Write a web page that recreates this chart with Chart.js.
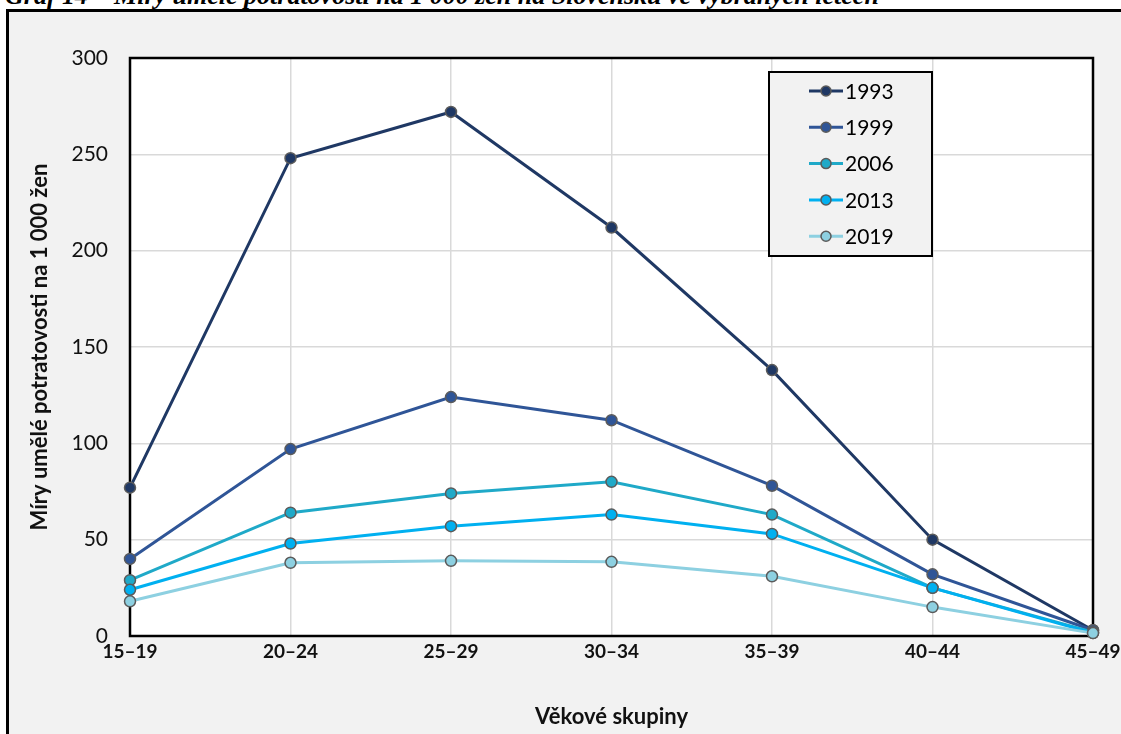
<!DOCTYPE html>
<html lang="cs">
<head>
<meta charset="utf-8">
<title>Míry umělé potratovosti</title>
<script src="https://cdn.jsdelivr.net/npm/chart.js@4.4.1/dist/chart.umd.min.js"></script>
<style>
  html, body { margin: 0; padding: 0; background: #ffffff; overflow: hidden; width: 1121px; height: 734px; }
  #title {
    position: absolute; left: 5px; top: -17px; white-space: nowrap;
    font: bold italic 26px "Liberation Serif", "DejaVu Serif", serif; line-height: 26px; color: #000;
  }
  #frame {
    position: absolute; left: 6px; top: 9px; width: 1300px; height: 900px;
    border: 3px solid #000; background: #f2f2f2;
  }
  #wrap { position: absolute; left: 0; top: 0; width: 1121px; height: 734px; }
</style>
</head>
<body>
<div id="title">Graf 14 – Míry umělé potratovosti na 1 000 žen na Slovensku ve vybraných letech</div>
<div id="frame"></div>
<div id="wrap"><canvas id="chart" width="1121" height="734"></canvas></div>
<script>
// Age groups (x axis)
const ageGroups = ['15–19', '20–24', '25–29', '30–34', '35–39', '40–44', '45–49'];

// Induced abortion rates per 1 000 women, by year
const years = ['1993', '1999', '2006', '2013', '2019'];
const rates1993 = [77, 248, 272, 212, 138, 50, 3];
const rates1999 = [40, 97, 124, 112, 78, 32, 3];
const rates2006 = [29, 64, 74, 80, 63, 25, 2];
const rates2013 = [24, 48, 57, 63, 53, 25, 1.5];
const rates2019 = [18, 38, 39, 38.5, 31, 15, 1.5];

const seriesColors = ['#1f3864', '#2f5597', '#1fa9c8', '#00b0f0', '#8dd0e1'];
const seriesValues = [rates1993, rates1999, rates2006, rates2013, rates2019];

const yTicks = [0, 50, 100, 150, 200, 250, 300];

const FONT = 'Lato, "Open Sans", "DejaVu Sans", sans-serif';

const datasets = years.map((y, i) => ({
  label: y,
  data: seriesValues[i],
  borderColor: seriesColors[i],
  backgroundColor: seriesColors[i],
  pointBackgroundColor: seriesColors[i],
  pointBorderColor: '#5b5b5b',
  pointBorderWidth: 1.5,
  pointRadius: 5.5,
  pointHoverRadius: 5.5,
  borderWidth: 3,
  tension: 0,
  clip: false,
  order: years.length - i
}));

// White plot area and its black frame
const plotFrame = {
  id: 'plotFrame',
  beforeDraw(chart) {
    const { ctx, chartArea: a } = chart;
    ctx.save();
    ctx.fillStyle = '#ffffff';
    ctx.fillRect(a.left, a.top, a.right - a.left, a.bottom - a.top);
    ctx.restore();
  },
  beforeDatasetsDraw(chart) {
    const { ctx, chartArea: a } = chart;
    ctx.save();
    ctx.strokeStyle = '#000000';
    ctx.lineWidth = 2.5;
    ctx.strokeRect(a.left, a.top, a.right - a.left, a.bottom - a.top);
    ctx.restore();
  }
};

// Boxed legend inside the plot area
const boxLegend = {
  id: 'boxLegend',
  afterDraw(chart, args, opts) {
    const { ctx } = chart;
    ctx.save();
    ctx.fillStyle = '#f2f2f2';
    ctx.fillRect(opts.x, opts.y, opts.w, opts.h);
    ctx.strokeStyle = '#000';
    ctx.lineWidth = 2;
    ctx.strokeRect(opts.x, opts.y, opts.w, opts.h);
    chart.data.datasets.forEach((ds, i) => {
      const cy = opts.y + opts.firstRow + i * opts.rowGap;
      const x0 = opts.x + opts.lineStart;
      ctx.strokeStyle = ds.borderColor;
      ctx.lineWidth = 3;
      ctx.beginPath();
      ctx.moveTo(x0, cy);
      ctx.lineTo(x0 + opts.lineLen, cy);
      ctx.stroke();
      ctx.beginPath();
      ctx.arc(x0 + opts.lineLen / 2, cy, 5, 0, Math.PI * 2);
      ctx.fillStyle = ds.pointBackgroundColor;
      ctx.fill();
      ctx.lineWidth = 1.5;
      ctx.strokeStyle = '#5b5b5b';
      ctx.stroke();
      ctx.fillStyle = '#000';
      ctx.font = '21px ' + FONT;
      ctx.textBaseline = 'middle';
      ctx.textAlign = 'left';
      ctx.fillText(ds.label, x0 + opts.lineLen + 2, cy + 1);
    });
    ctx.restore();
  }
};

new Chart(document.getElementById('chart'), {
  type: 'line',
  data: { labels: ageGroups, datasets },
  plugins: [plotFrame, boxLegend],
  options: {
    responsive: false,
    animation: false,
    devicePixelRatio: 1,
    layout: { padding: { left: 0, top: 58, right: 28, bottom: 0 } },
    plugins: {
      legend: { display: false },
      tooltip: { enabled: false },
      boxLegend: { x: 769, y: 72, w: 163, h: 184, firstRow: 19, rowGap: 36.3, lineStart: 40, lineLen: 34 }
    },
    scales: {
      x: {
        type: 'category',
        offset: false,
        border: { display: false },
        grid: { color: '#d9d9d9', lineWidth: 1.5, drawTicks: false },
        ticks: { color: '#111', padding: 4, font: { family: FONT, size: 19, weight: 'bold' }, maxRotation: 0 },
        title: { display: true, text: 'Věkové skupiny', color: '#111', font: { family: FONT, size: 22, weight: 'bold' }, padding: { top: 0, bottom: 4 } },
        afterFit(scale) { scale.height = 98; scale.paddingLeft = 0; scale.paddingRight = 0; }
      },
      y: {
        min: 0,
        max: 300,
        border: { display: false },
        grid: { color: '#d9d9d9', lineWidth: 1.5, drawTicks: false },
        afterBuildTicks(scale) { scale.ticks = yTicks.map(v => ({ value: v })); },
        ticks: { color: '#111', padding: 22, font: { family: FONT, size: 21 } },
        title: { display: true, text: 'Míry umělé potratovosti na 1 000 žen', color: '#111', font: { family: FONT, size: 22, weight: 'bold' }, padding: { top: 27, bottom: 0 } },
        afterFit(scale) { scale.width = 130; }
      }
    }
  }
});
</script>
</body>
</html>
